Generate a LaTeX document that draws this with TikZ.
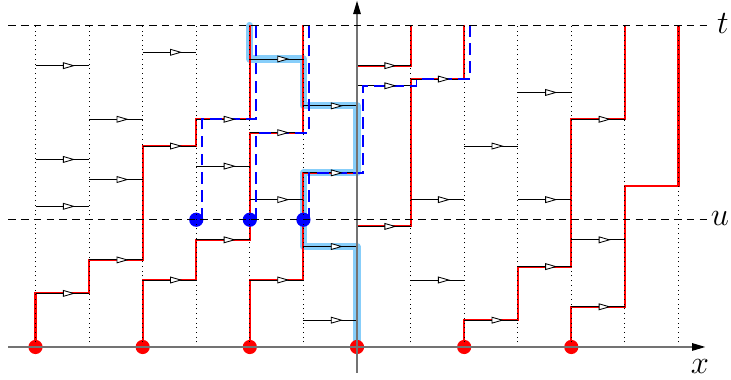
\documentclass[tikz,border=0pt]{standalone}
\usetikzlibrary{arrows.meta}
\definecolor{hlblue}{RGB}{135,206,250}
\tikzset{
  colline/.style={dotted, line width=0.5pt},
  levelline/.style={dash pattern=on 4pt off 2.8pt, line width=0.6pt},
  redpath/.style={red, line width=1.1pt},
  bluepath/.style={blue, line width=0.9pt, dash pattern=on 6.3pt off 3.3pt},
  hlpath/.style={hlblue, line width=3.8pt, line join=round, line cap=round},
  jumpline/.style={line width=0.5pt},
  jumptip/.style={-{Triangle[length=6.5pt,width=3.6pt,fill=white,line width=0.45pt]}, line width=0.5pt},
  axisline/.style={black!55, line width=0.6pt, -{Triangle[length=7pt,width=4pt,color=black]}},
  reddot/.style={circle, fill=red, inner sep=0pt, minimum size=0.265cm},
  bluedot/.style={circle, fill=blue, inner sep=0pt, minimum size=0.265cm},
  lbl/.style={font=\LARGE, inner sep=0pt}
}
\begin{document}
\begin{tikzpicture}
\useasboundingbox (-6.663,-0.616) rectangle (6.980,6.476);
% highlighted backward path
\draw[hlpath] (0,0) -- (0,1.875) -- (-1,1.875) -- (-1,3.25) -- (0,3.25) -- (0,4.5)
  -- (-1,4.5) -- (-1,5.375) -- (-2,5.375) -- (-2,6);
% red particle paths
\draw[redpath] (-6,0) -- (-6,1) -- (-5,1) -- (-5,1.625) -- (-4,1.625) -- (-4,3.75)
  -- (-3,3.75) -- (-3,4.25) -- (-2,4.25) -- (-2,6);
\draw[redpath] (-4,0) -- (-4,1.25) -- (-3,1.25) -- (-3,2) -- (-2,2) -- (-2,4) -- (-1,4) -- (-1,6);
\draw[redpath] (-2,0) -- (-2,1.25) -- (-1,1.25) -- (-1,3.25) -- (0,3.25) -- (0,5.25) -- (1,5.25) -- (1,6);
\draw[redpath] (0,0) -- (0,2.25) -- (1,2.25) -- (1,5) -- (2,5) -- (2,6);
\draw[redpath] (2,0) -- (2,0.5) -- (3,0.5) -- (3,1.5) -- (4,1.5) -- (4,4.25) -- (5,4.25) -- (5,6);
\draw[redpath] (4,0) -- (4,0.75) -- (5,0.75) -- (5,3) -- (6,3) -- (6,6);
% dots
\foreach \i in {-6,-4,...,4} \node[reddot] (r\i) at (\i,0) {};
\node[bluedot] (bA) at (-3,2.375) {};
\node[bluedot] (bB) at (-2,2.375) {};
\node[bluedot] (bC) at (-1,2.375) {};
% columns
\foreach \i in {-6,...,6} \draw[colline] (\i,0) -- (\i,6);
% jump arrows
\foreach \a/\b in {-6/5.25, -6/3.5, -6/2.625, -6/1, -5/4.25, -5/3.125, -5/1.625,
  -4/5.5, -4/3.75, -4/1.25, -3/4.25, -3/3.375, -3/2, -2/5.375, -2/4, -2/2.75, -2/1.25,
  -1/4.5, -1/3.25, -1/1.875, -1/0.5, 0/5.25, 0/4.875, 0/2.25, 1/5, 1/2.75, 1/1.25,
  2/3.75, 2/0.5, 3/4.75, 3/2.75, 3/1.5, 4/4.25, 4/2, 4/0.75}
  \draw[jumpline] (\a,\b) -- ++(1,0);
% blue dashed paths
\draw[bluepath] (-2.89,2.375) -- (-2.89,4.25) -- (-1.89,4.25) -- (-1.89,6);
\draw[bluepath] (-1.89,2.375) -- (-1.89,4) -- (-0.89,4) -- (-0.89,6);
\draw[bluepath] (-0.89,2.375) -- (-0.89,3.25) -- (0.11,3.25) -- (0.11,4.875) -- (1.11,4.875)
  -- (1.11,5) -- (2.11,5) -- (2.11,6);
% arrow heads
\foreach \a/\b in {-6/5.25, -6/3.5, -6/2.625, -6/1, -5/4.25, -5/3.125, -5/1.625,
  -4/5.5, -4/3.75, -4/1.25, -3/4.25, -3/3.375, -3/2, -2/5.375, -2/4, -2/2.75, -2/1.25,
  -1/4.5, -1/3.25, -1/1.875, -1/0.5, 0/5.25, 0/4.875, 0/2.25, 1/5, 1/2.75, 1/1.25,
  2/3.75, 2/0.5, 3/4.75, 3/2.75, 3/1.5, 4/4.25, 4/2, 4/0.75}
  \draw[jumptip] (\a+0.5,\b) -- (\a+0.74,\b);
% axes
\draw[axisline] (-6.51,0) -- (6.50,0);
\draw[axisline] (0,-0.485) -- (0,6.46);
% level lines
\draw[levelline] (-6.51,6) -- (6.53,6);
\draw[levelline] (-6.51,2.375) -- (6.53,2.375);
\node[lbl] (lt) at (6.83,6.03) {$t$};
\node[lbl] (lu) at (6.775,2.39) {$u$};
\node[lbl] (lx) at (6.40,-0.37) {$x$};
\end{tikzpicture}
\end{document}
